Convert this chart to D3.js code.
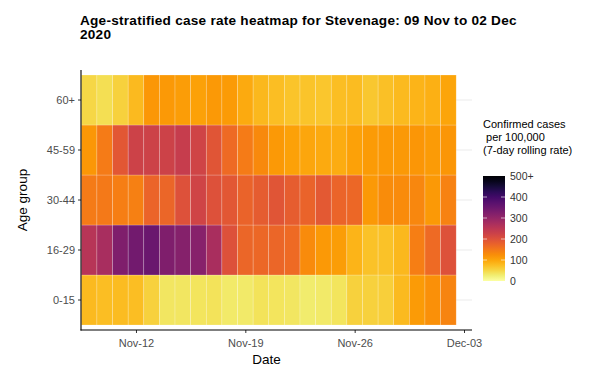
<!DOCTYPE html>
<html>
<head>
<meta charset="utf-8">
<script src="https://cdn.jsdelivr.net/npm/d3@7"></script>
<style>
  html, body { margin: 0; padding: 0; background: #fff; }
  svg { display: block; font-family: "Liberation Sans", Arial, sans-serif; }
</style>
</head>
<body>
<svg id="chart" width="589" height="372"></svg>
<script>
// ---- Data ----
const ageGroups = ["0-15", "16-29", "30-44", "45-59", "60+"];
const startDate = "2020-11-09";
const dayCount = 24; // 09 Nov to 02 Dec
const rate_0_15  = [80, 76, 78, 76, 55, 35, 35, 36, 38, 30, 30, 38, 36, 34, 28, 30, 36, 56, 55, 58, 80, 110, 122, 135];
const rate_16_29 = [255, 275, 325, 340, 350, 325, 318, 315, 272, 200, 170, 168, 170, 165, 128, 112, 108, 85, 72, 72, 82, 142, 165, 200];
const rate_30_44 = [145, 148, 142, 140, 172, 170, 200, 222, 200, 190, 175, 185, 195, 182, 175, 188, 172, 168, 112, 126, 128, 132, 112, 138];
const rate_45_59 = [115, 145, 190, 225, 225, 225, 235, 222, 195, 165, 145, 130, 112, 104, 98, 95, 93, 105, 110, 112, 112, 117, 110, 116];
const rate_60p   = [50, 42, 55, 80, 115, 112, 108, 104, 112, 110, 95, 82, 76, 70, 70, 68, 76, 78, 66, 74, 80, 84, 88, 100];
const xTickDates = ["2020-11-12", "2020-11-19", "2020-11-26", "2020-12-03"];
const legendTicks = [0, 100, 200, 300, 400, 500];
const legendTickLabels = ["0", "100", "200", "300", "400", "500+"];

const seriesByGroup = {
  "0-15": rate_0_15, "16-29": rate_16_29, "30-44": rate_30_44,
  "45-59": rate_45_59, "60+": rate_60p
};

const parse = d3.utcParse("%Y-%m-%d");
const day0 = parse(startDate);
const dates = d3.range(dayCount).map(i => d3.utcDay.offset(day0, i));

const cells = [];
ageGroups.forEach(g => {
  seriesByGroup[g].forEach((v, i) => cells.push({ group: g, date: dates[i], value: v }));
});

// ---- Layout ----
const svg = d3.select("#chart");
const panel = { left: 81, right: 472, top: 70, bottom: 330 };
const half = 12 * 3600 * 1000;

const x = d3.scaleUtc()
  .domain([new Date(+dates[0] - half), new Date(+dates[dates.length - 1] + half)])
  .range([81.3, 456.2]);

const y = d3.scaleBand()
  .domain(ageGroups.slice().reverse())
  .range([75, 325])
  .padding(0);

const color = v => d3.interpolateInferno(1 - Math.min(v, 500) / 500);

// gridlines (horizontal, at row centres)
svg.append("g").selectAll("line").data(ageGroups).join("line")
  .attr("x1", panel.left).attr("x2", panel.right)
  .attr("y1", d => y(d) + y.bandwidth() / 2)
  .attr("y2", d => y(d) + y.bandwidth() / 2)
  .attr("stroke", "#ebebeb").attr("stroke-width", 1);

// tiles
svg.append("g").selectAll("rect").data(cells).join("rect")
  .attr("x", d => x(new Date(+d.date - half)))
  .attr("width", d => x(new Date(+d.date + half)) - x(new Date(+d.date - half)))
  .attr("y", d => y(d.group))
  .attr("height", y.bandwidth())
  .attr("fill", d => color(d.value))
  .attr("stroke", "rgba(255,255,255,0.35)")
  .attr("stroke-width", 0.6);

// x axis
const xAxis = d3.axisBottom(x)
  .tickValues(xTickDates.map(parse))
  .tickFormat(d3.utcFormat("%b-%d"))
  .tickSizeOuter(0)
  .tickSize(3);
const gx = svg.append("g").attr("transform", `translate(0,${panel.bottom})`).call(xAxis);
gx.select(".domain").remove();
gx.append("line").attr("x1", panel.left - 0.5).attr("x2", panel.right)
  .attr("stroke", "#000").attr("stroke-width", 1.1);
gx.selectAll(".tick line").attr("stroke", "#333");
gx.selectAll(".tick text").attr("fill", "#4d4d4d").attr("font-size", 11).attr("dy", "1.0em");

// y axis
const yAxis = d3.axisLeft(y).tickSize(3).tickSizeOuter(0);
const gy = svg.append("g").attr("transform", `translate(${panel.left},0)`).call(yAxis);
gy.select(".domain").remove();
gy.append("line").attr("y1", panel.top).attr("y2", panel.bottom + 0.5)
  .attr("stroke", "#000").attr("stroke-width", 1.1);
gy.selectAll(".tick line").attr("stroke", "#333");
gy.selectAll(".tick text").attr("fill", "#4d4d4d").attr("font-size", 11).attr("x", -6);

// axis titles
svg.append("text").attr("x", (panel.left + panel.right) / 2 - 10).attr("y", 364)
  .attr("text-anchor", "middle").attr("font-size", 13.5).attr("fill", "#000").text("Date");
svg.append("text")
  .attr("transform", `translate(27,${(75 + 325) / 2}) rotate(-90)`)
  .attr("text-anchor", "middle").attr("font-size", 13.5).attr("fill", "#000").text("Age group");

// title (two lines, as in the reference)
const titleLines = ["Age-stratified case rate heatmap for Stevenage: 09 Nov to 02 Dec", "2020"];
svg.append("g").selectAll("text").data(titleLines).join("text")
  .attr("x", 80).attr("y", (d, i) => 25 + i * 14)
  .attr("font-size", 13.6).attr("font-weight", "bold").attr("fill", "#000")
  .attr("letter-spacing", 0.25)
  .text(d => d);

// legend
const legendTitle = ["Confirmed cases", " per 100,000", "(7-day rolling rate)"];
svg.append("g").selectAll("text").data(legendTitle).join("text")
  .attr("x", 483).attr("y", (d, i) => 128 + i * 13)
  .attr("font-size", 11).attr("fill", "#000")
  .attr("xml:space", "preserve").style("white-space", "pre")
  .text(d => d);

const lg = svg.append("defs").append("linearGradient")
  .attr("id", "lg").attr("x1", 0).attr("y1", 1).attr("x2", 0).attr("y2", 0);
d3.range(0, 1.0001, 0.05).forEach(t => {
  lg.append("stop").attr("offset", t).attr("stop-color", color(t * 500));
});
const ly = d3.scaleLinear().domain([0, 500]).range([281, 176]);
svg.append("rect").attr("x", 483).attr("y", ly(500)).attr("width", 22)
  .attr("height", ly(0) - ly(500)).attr("fill", "url(#lg)");
const inner = legendTicks.filter(v => v > 0 && v < 500);
const lt = svg.append("g");
inner.forEach(v => {
  lt.append("line").attr("x1", 483).attr("x2", 487).attr("y1", ly(v)).attr("y2", ly(v))
    .attr("stroke", "rgba(255,255,255,0.6)");
  lt.append("line").attr("x1", 501).attr("x2", 505).attr("y1", ly(v)).attr("y2", ly(v))
    .attr("stroke", "rgba(255,255,255,0.6)");
});
svg.append("g").selectAll("text").data(legendTicks).join("text")
  .attr("x", 510).attr("y", d => ly(d)).attr("dy", "0.35em")
  .attr("font-size", 10.5).attr("fill", "#333")
  .text((d, i) => legendTickLabels[i]);
</script>
</body>
</html>
